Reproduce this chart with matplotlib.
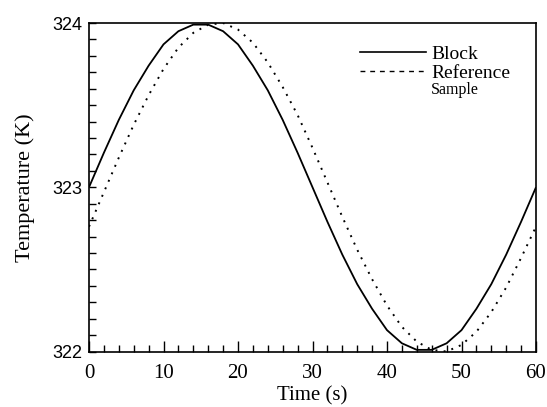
import matplotlib
matplotlib.use("Agg")
import matplotlib.pyplot as plt
from matplotlib.lines import Line2D

# Data
time_s = [0, 2, 4, 6, 8, 10, 12, 14, 16, 18, 20, 22, 24, 26, 28, 30,
          32, 34, 36, 38, 40, 42, 44, 46, 48, 50, 52, 54, 56, 58, 60]
block_K = [323.00, 323.21, 323.41, 323.59, 323.74, 323.87, 323.95, 323.99,
           323.99, 323.95, 323.87, 323.74, 323.59, 323.41, 323.21, 323.00,
           322.79, 322.59, 322.41, 322.26, 322.13, 322.05, 322.01, 322.01,
           322.05, 322.13, 322.26, 322.41, 322.59, 322.79, 323.00]
reference_K = [322.76, 322.97, 323.18, 323.38, 323.56, 323.72, 323.85, 323.94,
               323.99, 324.00, 323.96, 323.88, 323.76, 323.61, 323.44, 323.24,
               323.03, 322.82, 322.62, 322.44, 322.28, 322.15, 322.06, 322.01,
               322.00, 322.04, 322.12, 322.24, 322.39, 322.57, 322.76]

x_ticks = [0, 10, 20, 30, 40, 50, 60]
y_ticks = [322, 323, 324]
x_label = "Time (s)"
y_label = "Temperature (K)"
legend_labels = ["Block", "Reference"]
legend_extra = "Sample"

SERIF = "Liberation Serif"
SANS = "Liberation Sans"

fig = plt.figure(figsize=(5.47, 4.07), dpi=100)
ax = fig.add_axes([89 / 547, 1 - 351.5 / 407, 447 / 547, 328.5 / 407])

ax.plot(time_s, block_K, color="black", lw=1.3, solid_capstyle="butt")
ax.plot(time_s, reference_K, color="black", lw=1.4, linestyle=(0, (1, 3.2)))

ax.set_xlim(0, 60)
ax.set_ylim(322, 324)

ax.set_xticks(x_ticks)
ax.set_xticks([v for v in range(0, 61, 2)], minor=True)
ax.set_yticks(y_ticks)
ax.set_yticks([322 + i / 10 for i in range(21)], minor=True)

ax.tick_params(axis="both", which="both", direction="in", top=False, right=False)
ax.tick_params(axis="x", which="major", length=8, width=1.0, pad=9)
ax.tick_params(axis="x", which="minor", length=5, width=1.0)
ax.tick_params(axis="y", which="major", length=5, width=1.0, pad=5)
ax.tick_params(axis="y", which="minor", length=5, width=1.0)

for lab in ax.get_xticklabels():
    lab.set_fontfamily(SERIF)
    lab.set_fontsize(15)
for lab in ax.get_yticklabels():
    lab.set_fontfamily(SANS)
    lab.set_fontsize(13)

for sp in ax.spines.values():
    sp.set_linewidth(1.2)

ax.set_xlabel(x_label, fontfamily=SERIF, fontsize=15, labelpad=2)
ax.set_ylabel(y_label, fontfamily=SERIF, fontsize=16, labelpad=12)

handles = [Line2D([], [], color="black", lw=1.2),
           Line2D([], [], color="black", lw=1.0, linestyle=(0, (3.5, 3.5)))]
leg = ax.legend(handles, legend_labels, loc="upper left",
                bbox_to_anchor=(0.606, 0.933), frameon=False,
                prop={"family": SERIF, "size": 14},
                handlelength=3.4, handletextpad=0.3, labelspacing=0.1,
                borderpad=0, borderaxespad=0)

ax.text(0.765, 0.795, legend_extra, transform=ax.transAxes,
        fontfamily=SERIF, fontsize=11.5, va="center", ha="left")

fig.savefig("out.png", dpi=100)
